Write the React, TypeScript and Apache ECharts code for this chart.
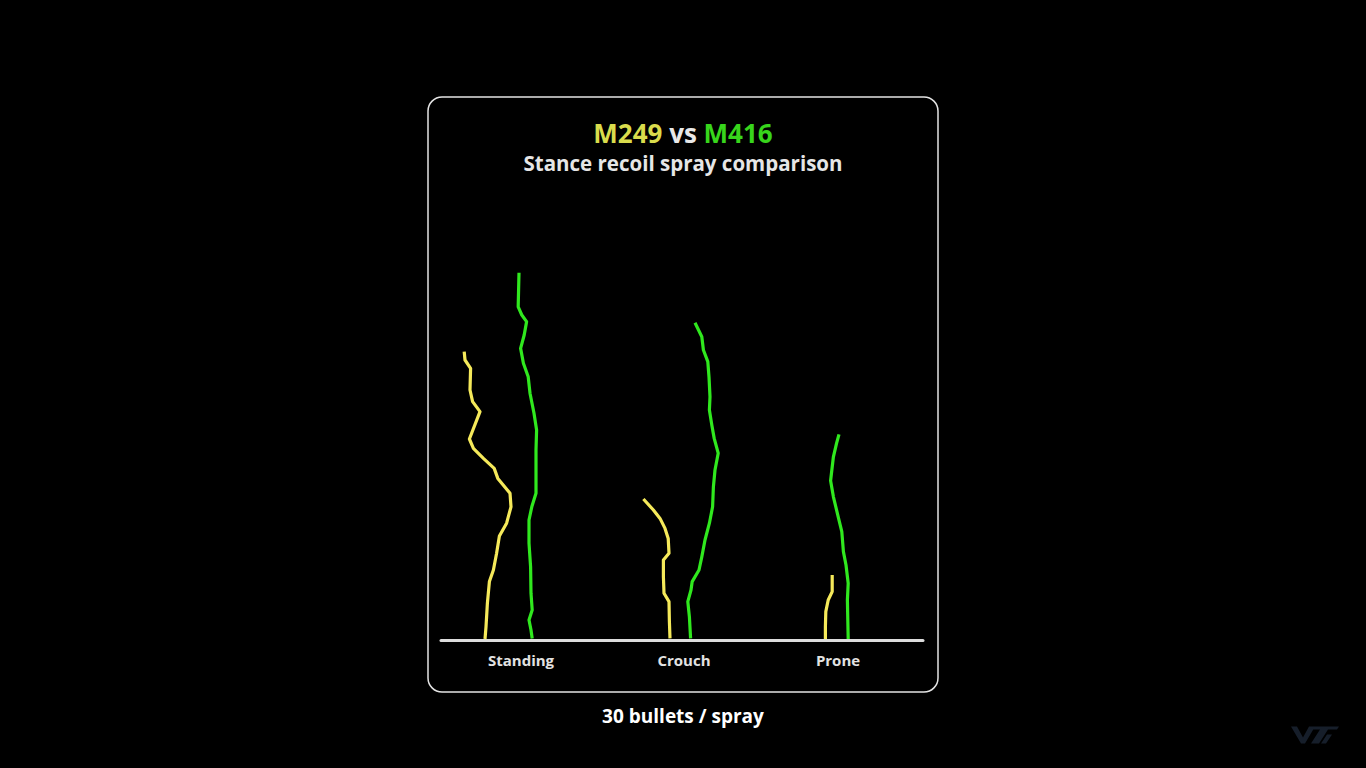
import React, { useEffect, useRef } from "react";
import * as echarts from "echarts";

// Stance categories and their centre positions on the horizontal axis
const stances = ["Standing", "Crouch", "Prone"];
const stanceCenters = [20, 60.75, 99.25];

// Spray traces: [horizontal position, vertical climb], first bullet at the bottom
const m249Standing: number[][] = [
  [11.0, 0.25], [11.25, 3.3], [11.6, 9.2], [12.1, 14.6], [13.1, 17.5], [13.9, 21.7],
  [14.6, 26.0], [16.4, 29.2], [17.5, 33.3], [17.25, 36.7], [14.2, 40.4], [13.3, 42.9],
  [10.6, 45.4], [8.1, 47.9], [7.1, 50.25], [9.75, 57.1], [7.9, 59.6], [7.25, 62.5],
  [7.4, 67.9], [6.0, 70.0], [5.8, 72.1],
];
const m416Standing: number[][] = [
  [22.8, 0.4], [22.5, 2.5], [22.0, 5.0], [22.8, 7.5], [22.5, 11.7], [22.4, 18.3],
  [22.0, 24.2], [22.0, 30.0], [22.7, 33.3], [23.75, 36.7], [23.75, 40.8], [23.75, 47.5],
  [23.9, 52.5], [23.25, 56.7], [22.25, 61.7], [21.8, 65.8], [20.6, 69.2], [19.9, 72.9],
  [20.8, 76.25], [21.4, 79.6], [20.2, 81.25], [19.3, 83.3], [19.5, 91.8],
];
const m249Crouch: number[][] = [
  [57.25, 0.4], [57.1, 4.6], [57.0, 9.6], [55.75, 11.7], [55.6, 15.8], [55.6, 20.0],
  [57.0, 21.7], [56.8, 25.4], [56.0, 27.9], [54.75, 30.4], [53.1, 32.5], [50.6, 35.25],
];
const m416Crouch: number[][] = [
  [62.4, 0.4], [62.1, 5.8], [61.7, 9.6], [62.5, 12.5], [62.8, 14.6], [64.5, 17.5],
  [65.2, 20.8], [66.0, 25.0], [67.1, 29.2], [67.9, 33.3], [68.1, 38.3], [68.5, 42.5],
  [69.3, 46.7], [68.3, 50.4], [67.7, 53.75], [67.1, 57.5], [67.25, 60.8], [67.0, 65.8],
  [66.7, 69.6], [65.6, 72.5], [65.2, 75.8], [63.5, 79.3],
];
const m249Prone: number[][] = [
  [96.1, 0.25], [96.1, 3.3], [96.2, 7.1], [96.8, 10.0], [97.8, 12.1], [97.8, 16.25],
];
const m416Prone: number[][] = [
  [101.8, 0.25], [101.7, 5.0], [101.6, 10.0], [101.8, 14.2], [101.25, 18.75], [100.6, 22.1],
  [100.2, 27.1], [99.3, 30.8], [98.1, 35.8], [97.4, 39.8], [98.1, 45.8], [98.9, 49.2],
  [99.5, 51.4],
];

const YELLOW = "#f5e95a";
const GREEN = "#30e81e";
const FONT = "'Open Sans'";

const logoPath =
  "M0 0 L6 0 L12 11 L18 0 L24 0 L14 17 L10 17 Z M20 17 L29 3 L22 3 L24 0 L48 0 L46 3 L37 3 L28 17 Z M30 17 L36 8 L41 8 L35 17 Z";

let logoRegistered = false;

export default function App() {
  const ref = useRef<HTMLDivElement>(null);

  useEffect(() => {
    document.body.style.margin = "0";
    document.body.style.background = "#000";
    if (!logoRegistered) {
      echarts.graphic.registerShape("logo", echarts.graphic.extendPath(logoPath, {}) as any);
      logoRegistered = true;
    }
    const chart = echarts.init(ref.current!, null, { renderer: "svg" });

    const mk = (name: string, data: number[][], color: string) => ({
      name,
      type: "line",
      data,
      showSymbol: false,
      symbol: "none",
      silent: true,
      lineStyle: { color, width: 3.2, join: "round", cap: "butt" },
      itemStyle: { color },
    });

    const titleRich = (color: string) => ({
      color,
      fontFamily: FONT,
      fontWeight: "bold",
      fontSize: 26,
      lineHeight: 28,
    });

    chart.setOption({
      animation: false,
      backgroundColor: "#000",
      title: {
        text: "{y|M249} {v|vs} {g|M416}",
        subtext: "Stance recoil spray comparison",
        left: "center",
        top: 119,
        padding: 0,
        itemGap: 5,
        textStyle: {
          fontFamily: FONT,
          fontWeight: "bold",
          fontSize: 26,
          lineHeight: 28,
          rich: {
            y: titleRich("#d9dc4c"),
            v: titleRich("#e8e8e8"),
            g: titleRich("#38d51c"),
          },
        },
        subtextStyle: {
          fontFamily: FONT,
          fontWeight: "bold",
          fontSize: 20.5,
          lineHeight: 22,
          color: "#e6e6e6",
        },
      },
      grid: { left: 441, right: 443, top: 240, bottom: 128 },
      xAxis: {
        type: "value",
        min: 0,
        max: 120.5,
        offset: 2,
        axisLine: { show: true, lineStyle: { color: "#dcdcdc", width: 3 } },
        axisTick: { show: false },
        splitLine: { show: false },
        axisLabel: {
          customValues: stanceCenters,
          formatter: (v: number) => {
            const i = stanceCenters.findIndex((c) => Math.abs(c - v) < 1e-6);
            return i >= 0 ? stances[i] : "";
          },
          color: "#e2e2e2",
          fontFamily: FONT,
          fontWeight: "bold",
          fontSize: 15,
          margin: 10,
        },
      },
      yAxis: {
        type: "value",
        min: 0,
        max: 100,
        show: false,
        splitLine: { show: false },
      },
      series: [
        mk("M249 Standing", m249Standing, YELLOW),
        mk("M416 Standing", m416Standing, GREEN),
        mk("M249 Crouch", m249Crouch, YELLOW),
        mk("M416 Crouch", m416Crouch, GREEN),
        mk("M249 Prone", m249Prone, YELLOW),
        mk("M416 Prone", m416Prone, GREEN),
      ],
      graphic: [
        {
          type: "rect",
          z: -1,
          shape: { x: 428, y: 97, width: 510, height: 595, r: 14 },
          style: { fill: "none", stroke: "#e4e4e4", lineWidth: 1.5 },
        },
        {
          type: "text",
          x: 683,
          y: 716,
          style: {
            text: "30 bullets / spray",
            fill: "#ffffff",
            font: `bold 19px ${FONT}`,
            textAlign: "center",
            textVerticalAlign: "middle",
          },
        },
        {
          type: "logo",
          x: 1291,
          y: 726.5,
          scaleX: 1,
          scaleY: 1,
          style: { fill: "#161e2a" },
        },
      ],
    });

    return () => chart.dispose();
  }, []);

  return (
    <div
      ref={ref}
      style={{ position: "fixed", left: 0, top: 0, width: 1366, height: 768, background: "#000" }}
    />
  );
}
